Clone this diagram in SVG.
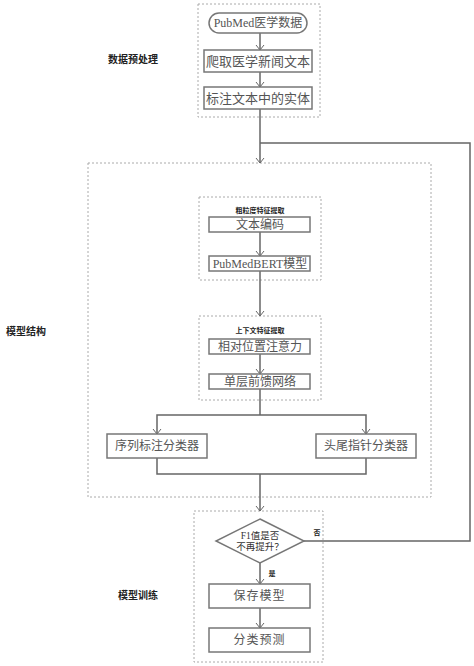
<svg xmlns="http://www.w3.org/2000/svg" width="474" height="666" viewBox="0 0 474 666">
<defs>
<marker id="arr" markerWidth="10" markerHeight="10" refX="8" refY="5" orient="auto" markerUnits="userSpaceOnUse">
<path d="M3,1 L8,5 L3,9" fill="none" stroke="#666" stroke-width="1"/>
</marker>
<style>
.box{fill:#fff;stroke:#777;stroke-width:1.5}
.grp{fill:none;stroke:#aaa;stroke-width:1;stroke-dasharray:2,2}
.t{font-family:"Liberation Serif","Noto Sans CJK SC",serif;fill:#555;text-anchor:middle;dominant-baseline:central}
.lb{font-family:"Noto Sans CJK SC",sans-serif;font-weight:bold;fill:#222;text-anchor:middle;dominant-baseline:central}
.c{fill:none;stroke:#666;stroke-width:1.5}
</style>
</defs>
<rect width="474" height="666" fill="#fff"/>
<g id="groups">
<rect class="grp" x="198" y="4" width="122" height="113"/>
<rect class="grp" x="88" y="163" width="343" height="334"/>
<rect class="grp" x="199" y="197" width="122" height="83"/>
<rect class="grp" x="199" y="316" width="122" height="84"/>
<rect class="grp" x="194" y="511" width="129" height="151"/>
</g>
<g id="labels">
<text class="lb" x="133" y="58" font-size="10">数据预处理</text>
<text class="lb" x="26" y="330" font-size="10">模型结构</text>
<text class="lb" x="138" y="594" font-size="10">模型训练</text>
<text class="lb" x="260" y="210" font-size="7">粗粒度特征提取</text>
<text class="lb" x="260" y="330" font-size="7">上下文特征提取</text>
<text class="lb" x="317" y="532" font-size="7">否</text>
<text class="lb" x="272" y="573" font-size="7">是</text>
</g>
<g id="connectors">
<line class="c" x1="260" y1="33" x2="260" y2="50" marker-end="url(#arr)"/>
<line class="c" x1="260" y1="72" x2="260" y2="87" marker-end="url(#arr)"/>
<line class="c" x1="260" y1="109" x2="260" y2="163" marker-end="url(#arr)"/>
<line class="c" x1="260" y1="232" x2="260" y2="256" marker-end="url(#arr)"/>
<line class="c" x1="260" y1="271" x2="260" y2="316" marker-end="url(#arr)"/>
<line class="c" x1="260" y1="354" x2="260" y2="374" marker-end="url(#arr)"/>
<polyline class="c" points="260,389 260,415"/>
<polyline class="c" points="260,415 157,415 157,434" marker-end="url(#arr)"/>
<polyline class="c" points="260,415 366,415 366,434" marker-end="url(#arr)"/>
<polyline class="c" points="157,458 157,474 366,474 366,458"/>
<line class="c" x1="260" y1="474" x2="260" y2="511" marker-end="url(#arr)"/>
<line class="c" x1="260" y1="563" x2="260" y2="584" marker-end="url(#arr)"/>
<line class="c" x1="260" y1="608" x2="260" y2="628" marker-end="url(#arr)"/>
<polyline class="c" points="304,541 470,541 470,143 260,143"/>
</g>
<g id="n-pubmed">
<rect class="box" x="209" y="13" width="98" height="20" rx="10"/>
<text class="t" x="258" y="23" font-size="12">PubMed医学数据</text>
</g>
<g id="n-crawl">
<rect class="box" x="204" y="50" width="108" height="22"/>
<text class="t" x="258" y="61" font-size="13">爬取医学新闻文本</text>
</g>
<g id="n-annotate">
<rect class="box" x="204" y="87" width="108" height="22"/>
<text class="t" x="258" y="98" font-size="13">标注文本中的实体</text>
</g>
<g id="n-encode">
<rect class="box" x="209" y="217" width="101" height="15"/>
<text class="t" x="260" y="224.5" font-size="12">文本编码</text>
</g>
<g id="n-bert">
<rect class="box" x="209" y="256" width="101" height="15"/>
<text class="t" x="260" y="263.5" font-size="12">PubMedBERT模型</text>
</g>
<g id="n-attn">
<rect class="box" x="209" y="339" width="101" height="15"/>
<text class="t" x="260" y="346.5" font-size="12">相对位置注意力</text>
</g>
<g id="n-ffn">
<rect class="box" x="209" y="374" width="101" height="15"/>
<text class="t" x="260" y="381.5" font-size="12">单层前馈网络</text>
</g>
<g id="n-seq">
<rect class="box" x="107" y="434" width="100" height="24"/>
<text class="t" x="157" y="446" font-size="12">序列标注分类器</text>
</g>
<g id="n-ptr">
<rect class="box" x="316" y="434" width="100" height="24"/>
<text class="t" x="366" y="446" font-size="12">头尾指针分类器</text>
</g>
<g id="n-decision">
<polygon class="box" points="260,519 304,541 260,563 216,541"/>
<text class="t" x="260" y="536" font-size="9.5" fill="#333" style="fill:#333">F1值是否</text>
<text class="t" x="260" y="547" font-size="9.5" style="fill:#333">不再提升？</text>
</g>
<g id="n-save">
<rect class="box" x="209" y="584" width="101" height="24"/>
<text class="t" x="259.5" y="596" font-size="12" letter-spacing="1">保存模型</text>
</g>
<g id="n-predict">
<rect class="box" x="209" y="628" width="101" height="24"/>
<text class="t" x="259.5" y="640" font-size="12" letter-spacing="1">分类预测</text>
</g>
</svg>
